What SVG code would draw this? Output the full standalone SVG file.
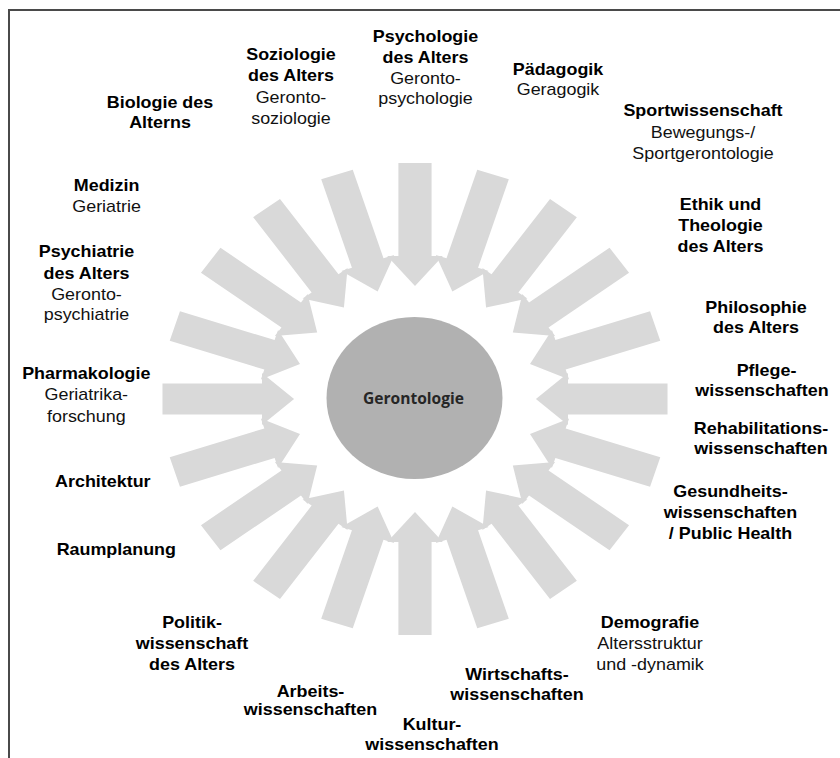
<svg xmlns="http://www.w3.org/2000/svg" xmlns:xlink="http://www.w3.org/1999/xlink" width="840" height="758" viewBox="0 0 840 758">
<style>
.b{font-family:"Liberation Sans",Arial,sans-serif;font-weight:bold;font-size:16px;fill:#000;text-anchor:middle}
.r{font-family:"Liberation Sans",Arial,sans-serif;font-size:16px;fill:#111;text-anchor:middle}
.arr{fill:#d9d9d9}
</style>
<defs>
<polygon id="arr" class="arr" points="-15.5,-236 15.5,-236 15.5,-143 26,-143 0,-113 -26,-143 -15.5,-143"/>
</defs>
<rect width="840" height="758" fill="#fff"/>
<path d="M9,758 V10 H840" fill="none" stroke="#4a4a4a" stroke-width="2"/>
<g id="connectors" transform="translate(415,399) scale(1.07,1)">
<use xlink:href="#arr" transform="rotate(0)"/>
<use xlink:href="#arr" transform="rotate(18)"/>
<use xlink:href="#arr" transform="rotate(36)"/>
<use xlink:href="#arr" transform="rotate(54)"/>
<use xlink:href="#arr" transform="rotate(72)"/>
<use xlink:href="#arr" transform="rotate(90)"/>
<use xlink:href="#arr" transform="rotate(108)"/>
<use xlink:href="#arr" transform="rotate(126)"/>
<use xlink:href="#arr" transform="rotate(144)"/>
<use xlink:href="#arr" transform="rotate(162)"/>
<use xlink:href="#arr" transform="rotate(180)"/>
<use xlink:href="#arr" transform="rotate(198)"/>
<use xlink:href="#arr" transform="rotate(216)"/>
<use xlink:href="#arr" transform="rotate(234)"/>
<use xlink:href="#arr" transform="rotate(252)"/>
<use xlink:href="#arr" transform="rotate(270)"/>
<use xlink:href="#arr" transform="rotate(288)"/>
<use xlink:href="#arr" transform="rotate(306)"/>
<use xlink:href="#arr" transform="rotate(324)"/>
<use xlink:href="#arr" transform="rotate(342)"/>
</g>
<g id="gerontologie">
<ellipse cx="414.5" cy="398" rx="88" ry="81" fill="#b1b1b1"/>
<text x="413.5" y="404" font-family="'Open Sans',sans-serif" font-weight="700" font-size="16" fill="#262626" text-anchor="middle" textLength="101" lengthAdjust="spacingAndGlyphs">Gerontologie</text>
</g>
<g id="biologie" transform="translate(160,0) scale(1.12,1)"><text class="b" x="0" y="108">Biologie des</text><text class="b" x="0" y="128.5">Alterns</text></g>
<g id="soziologie" transform="translate(291,0) scale(1.12,1)"><text class="b" x="0" y="60">Soziologie</text><text class="b" x="0" y="81">des Alters</text><text class="r" x="0" y="103">Geronto-</text><text class="r" x="0" y="124">soziologie</text></g>
<g id="psychologie" transform="translate(425.5,0) scale(1.12,1)"><text class="b" x="0" y="42.5">Psychologie</text><text class="b" x="0" y="63">des Alters</text><text class="r" x="0" y="84">Geronto-</text><text class="r" x="0" y="104">psychologie</text></g>
<g id="paedagogik" transform="translate(558,0) scale(1.12,1)"><text class="b" x="0" y="75">Pädagogik</text><text class="r" x="0" y="95.5">Geragogik</text></g>
<g id="sport" transform="translate(703,0) scale(1.12,1)"><text class="b" x="0" y="116">Sportwissenschaft</text><text class="r" x="0" y="137.7">Bewegungs-/</text><text class="r" x="0" y="159">Sportgerontologie</text></g>
<g id="ethik" transform="translate(720.5,0) scale(1.12,1)"><text class="b" x="0" y="210">Ethik und</text><text class="b" x="0" y="230.7">Theologie</text><text class="b" x="0" y="251.7">des Alters</text></g>
<g id="philosophie" transform="translate(756,0) scale(1.12,1)"><text class="b" x="0" y="313.3">Philosophie</text><text class="b" x="0" y="333.5">des Alters</text></g>
<g id="pflege"><text class="b" transform="translate(766.5,0) scale(1.12,1)" x="0" y="376">Pflege-</text><text class="b" transform="translate(762,0) scale(1.12,1)" x="0" y="396">wissenschaften</text></g>
<g id="rehabilitation" transform="translate(761,0) scale(1.12,1)"><text class="b" x="0" y="434">Rehabilitations-</text><text class="b" x="0" y="454.5">wissenschaften</text></g>
<g id="gesundheit" transform="translate(730.5,0) scale(1.12,1)"><text class="b" x="0" y="497">Gesundheits-</text><text class="b" x="0" y="518">wissenschaften</text><text class="b" x="0" y="539">/ Public Health</text></g>
<g id="demografie" transform="translate(650,0) scale(1.12,1)"><text class="b" x="0" y="628">Demografie</text><text class="r" x="0" y="649">Altersstruktur</text><text class="r" x="0" y="670.5">und -dynamik</text></g>
<g id="wirtschaft" transform="translate(517,0) scale(1.12,1)"><text class="b" x="0" y="680">Wirtschafts-</text><text class="b" x="0" y="700">wissenschaften</text></g>
<g id="kultur" transform="translate(432,0) scale(1.12,1)"><text class="b" x="0" y="730.5">Kultur-</text><text class="b" x="0" y="750">wissenschaften</text></g>
<g id="arbeit" transform="translate(310.5,0) scale(1.12,1)"><text class="b" x="0" y="697">Arbeits-</text><text class="b" x="0" y="715">wissenschaften</text></g>
<g id="politik" transform="translate(192,0) scale(1.12,1)"><text class="b" x="0" y="628">Politik-</text><text class="b" x="0" y="649.5">wissenschaft</text><text class="b" x="0" y="670.5">des Alters</text></g>
<g id="raumplanung" transform="translate(116.3,0) scale(1.12,1)"><text class="b" x="0" y="555">Raumplanung</text></g>
<g id="architektur" transform="translate(102.8,0) scale(1.12,1)"><text class="b" x="0" y="487">Architektur</text></g>
<g id="pharmakologie" transform="translate(86.3,0) scale(1.12,1)"><text class="b" x="0" y="379">Pharmakologie</text><text class="r" x="0" y="400">Geriatrika-</text><text class="r" x="0" y="422">forschung</text></g>
<g id="psychiatrie" transform="translate(86.5,0) scale(1.12,1)"><text class="b" x="0" y="257.3">Psychiatrie</text><text class="b" x="0" y="279">des Alters</text><text class="r" x="0" y="300">Geronto-</text><text class="r" x="0" y="320">psychiatrie</text></g>
<g id="medizin" transform="translate(106.6,0) scale(1.12,1)"><text class="b" x="0" y="191">Medizin</text><text class="r" x="0" y="212">Geriatrie</text></g>
</svg>
